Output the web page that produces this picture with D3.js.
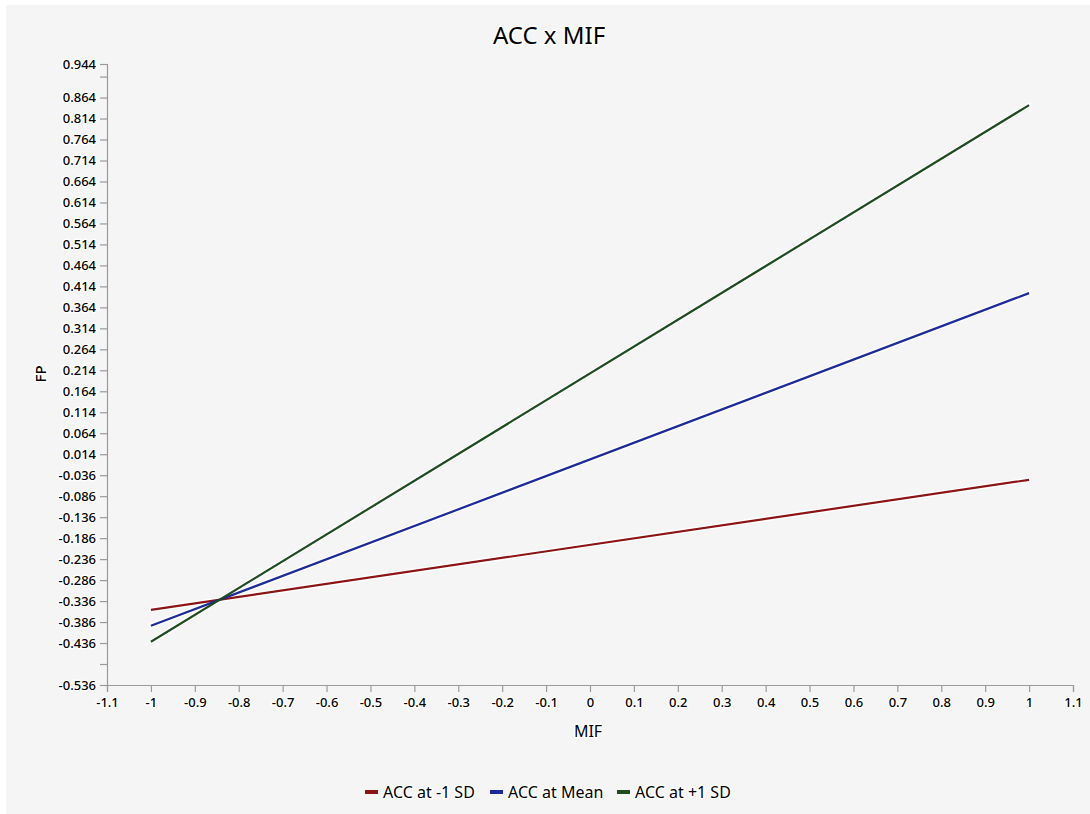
<!DOCTYPE html>
<html>
<head>
<meta charset="utf-8">
<script src="https://cdn.jsdelivr.net/npm/d3@7"></script>
<style>
  body { margin: 0; background: #fff; }
  text { font-family: "Noto Sans", "Open Sans", sans-serif; fill: #000; }
  .halo { paint-order: stroke; stroke: #fff; stroke-width: 3px; stroke-linejoin: round; }
</style>
</head>
<body>
<div id="chart"></div>
<script>
// values
var xPoints = [-1, 1];
var seriesNames = ["ACC at -1 SD", "ACC at Mean", "ACC at +1 SD"];
var lowValues = [-0.357, -0.047];
var meanValues = [-0.395, 0.398];
var highValues = [-0.433, 0.846];
var seriesColors = ["#8c1414", "#1c2b98", "#1d4d1f"];

var xTicks = [-1.1, -1, -0.9, -0.8, -0.7, -0.6, -0.5, -0.4, -0.3, -0.2, -0.1, 0,
              0.1, 0.2, 0.3, 0.4, 0.5, 0.6, 0.7, 0.8, 0.9, 1, 1.1];
var yTicks = [-0.536, -0.486, -0.436, -0.386, -0.336, -0.286, -0.236, -0.186, -0.136,
              -0.086, -0.036, 0.014, 0.064, 0.114, 0.164, 0.214, 0.264, 0.314, 0.364,
              0.414, 0.464, 0.514, 0.564, 0.614, 0.664, 0.714, 0.764, 0.814, 0.864,
              0.914, 0.944];
var yHidden = [-0.486, 0.914]; // ticks drawn without label

function main() {
    var width = 1090,
        height = 814;

    var svg = d3.select("#chart").append("svg")
        .attr("width", width)
        .attr("height", height);

    // grey panel
    svg.append("rect")
        .attr("x", 6).attr("y", 5)
        .attr("width", width - 6).attr("height", height - 5)
        .attr("fill", "#f5f5f5");

    var x = d3.scaleLinear().domain([-1.1, 1.1]).range([107, 1073]);
    var y = d3.scaleLinear().domain([-0.536, 0.944]).range([685, 64]);

    // title
    svg.append("text")
        .attr("class", "halo")
        .attr("x", 549).attr("y", 44)
        .attr("text-anchor", "middle")
        .style("font-size", "24px")
        .text("ACC x MIF");

    // y axis
    var yAxis = svg.append("g")
        .attr("transform", "translate(107,0)")
        .call(d3.axisLeft(y).tickValues(yTicks).tickSize(7).tickPadding(4)
            .tickFormat(function(d) {
                return yHidden.indexOf(d) >= 0 ? "" : d3.format(".3f")(d).replace("−", "-");
            }));

    // x axis
    var xAxis = svg.append("g")
        .attr("transform", "translate(0,685)")
        .call(d3.axisBottom(x).tickValues(xTicks).tickSize(7).tickPadding(6)
            .tickFormat(function(d) { return d3.format("")(+d.toFixed(1)).replace("−", "-"); }));

    [yAxis, xAxis].forEach(function(ax) {
        ax.select(".domain").attr("stroke", "#9a9a9a").attr("stroke-width", 1.2);
        ax.selectAll(".tick line").attr("stroke", "#9a9a9a").attr("stroke-width", 1.2);
        ax.selectAll(".tick text")
            .attr("class", "halo")
            .style("font-size", "13px")
            .style("font-family", "'Noto Sans', sans-serif")
            .style("font-weight", "500")
            .attr("fill", "#000");
    });

    // axis titles
    svg.append("text")
        .attr("class", "halo")
        .attr("transform", "translate(46,374) rotate(-90)")
        .attr("text-anchor", "middle")
        .style("font-size", "15px")
        .style("font-weight", "500")
        .text("FP");

    svg.append("text")
        .attr("class", "halo")
        .attr("x", 588).attr("y", 737)
        .attr("text-anchor", "middle")
        .style("font-size", "16px")
        .text("MIF");

    // lines
    var series = [lowValues, meanValues, highValues];
    var line = d3.line()
        .x(function(d, i) { return x(xPoints[i]); })
        .y(function(d) { return y(d); });

    var lines = svg.append("g");
    series.forEach(function(vals) {
        lines.append("path")
            .attr("d", line(vals))
            .attr("fill", "none")
            .attr("stroke", "#fff")
            .attr("stroke-width", 5)
            .attr("stroke-linecap", "round");
    });
    series.forEach(function(vals, i) {
        lines.append("path")
            .attr("d", line(vals))
            .attr("fill", "none")
            .attr("stroke", seriesColors[i])
            .attr("stroke-width", 2.2);
    });

    // legend
    var legendX = [365, 490, 617];
    var legend = svg.append("g");
    seriesNames.forEach(function(name, i) {
        legend.append("rect")
            .attr("x", legendX[i]).attr("y", 790)
            .attr("width", 13).attr("height", 4)
            .attr("fill", seriesColors[i]);
        legend.append("text")
            .attr("class", "halo")
            .attr("x", legendX[i] + 18).attr("y", 798)
            .style("font-size", "16px")
            .text(name);
    });
}
main();
</script>
</body>
</html>
